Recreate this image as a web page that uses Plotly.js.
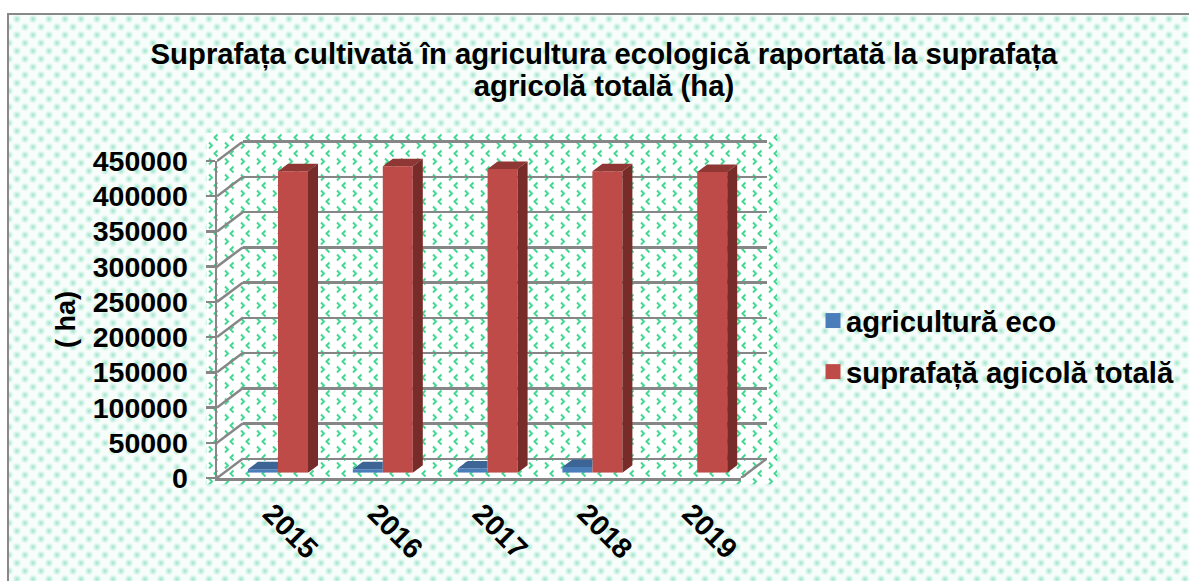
<!DOCTYPE html>
<html>
<head>
<meta charset="utf-8">
<script src="https://cdn.plot.ly/plotly-3.0.1.min.js"></script>
<style>
html,body{margin:0;padding:0;background:#fff;width:1189px;height:581px;overflow:hidden}
#outer,#wall,#chart{position:absolute}
#outer{left:7px;top:13px;width:1182px;height:568px;box-sizing:border-box;border-left:2.5px solid #888;border-top:2.5px solid #888;background-color:#f7fdfb;
background-image:radial-gradient(circle at 8px 4px,#9fe3ca 0,#c9f1e2 2px,rgba(255,255,255,0) 4.5px),radial-gradient(circle at 0 12px,#9fe3ca 0,#c9f1e2 2px,rgba(255,255,255,0) 4.5px),radial-gradient(circle at 16px 12px,#9fe3ca 0,#c9f1e2 2px,rgba(255,255,255,0) 4.5px);background-size:16px 16px}
#wall{left:207px;top:133px;width:570px;height:351px;background-color:#fff;background-size:16px 16px;
background-image:url("data:image/svg+xml,%3Csvg xmlns='http://www.w3.org/2000/svg' width='16' height='16'%3E%3Cpath d='M10.5 1.5L7.5 4.5L10.5 7.5M2 9.5L5 12.5L2 15.5' fill='none' stroke='%2344d893' stroke-width='2'/%3E%3C/svg%3E")}
</style>
</head>
<body>
<div id="outer"></div>
<div id="wall"></div>
<div id="chart"></div>
<script>
var W = 1189, H = 581;
var categories = ['2015', '2016', '2017', '2018', '2019'];
var ecoValues = [5000, 5000, 6000, 8000, null];
var totalValues = [428000, 435000, 431000, 428000, 427000];
var tickValues = [0, 50000, 100000, 150000, 200000, 250000, 300000, 350000, 400000, 450000];
var tickLabels = ['0', '50000', '100000', '150000', '200000', '250000', '300000', '350000', '400000', '450000'];
var ecoName = 'agricultură eco';
var totalName = 'suprafață agicolă totală';
var titleText = 'Suprafața cultivată în agricultura ecologică raportată la suprafața<br>agricolă totală (ha)';

function xd(a, b) { return [a / W, b / W]; }
function yd(bottom, top) { return [1 - bottom / H, 1 - top / H]; }

var catPx = 104.8, valPerPx = 450000 / 317;
var idx = categories.map(function (_, i) { return i + 1; });
var w = 30 / catPx, dx = 10 / catPx, dy = 7.5 * valPerPx;
var wallDx = 26 / catPx, wallDy = 19.5 * valPerPx;
var GRID = '#868686';
var font = 'Liberation Sans, Arial, sans-serif';

var diagX = [], diagY = [];
tickValues.forEach(function (v) {
  diagX.push(0.5, 0.5 + wallDx, null);
  diagY.push(v, v + wallDy, null);
});
diagX.push(5.5, 5.5 + wallDx);
diagY.push(0, wallDy);

function poly(list, color, name) {
  var xs = [], ys = [];
  list.forEach(function (p) {
    p.forEach(function (q) { xs.push(q[0]); ys.push(q[1]); });
    xs.push(null); ys.push(null);
  });
  return { type: 'scatter', mode: 'lines', x: xs, y: ys, fill: 'toself', fillcolor: color,
    line: { width: 0, color: color }, xaxis: 'x3', yaxis: 'y3', showlegend: false, hoverinfo: 'skip', cliponaxis: false, name: name };
}

var ecoTop = [], redSide = [], redTop = [];
idx.forEach(function (c, i) {
  var e = ecoValues[i], t = totalValues[i], x1 = c + w;
  if (e !== null) ecoTop.push([[c - w, e], [c, e], [c, e + dy], [c - w + dx, e + dy]]);
  redSide.push([[x1, 0], [x1 + dx, dy], [x1 + dx, t + dy], [x1, t]]);
  redTop.push([[c, t], [x1, t], [x1 + dx, t + dy], [c + dx, t + dy]]);
});

var traces = [
  { type: 'scatter', mode: 'lines', x: [1], y: [0], xaxis: 'x', yaxis: 'y', line: { width: 0 }, showlegend: false, hoverinfo: 'skip' },
  { type: 'scatter', mode: 'lines', x: [1], y: [0], xaxis: 'x2', yaxis: 'y2', line: { width: 0 }, showlegend: false, hoverinfo: 'skip' },
  { type: 'scatter', mode: 'lines', x: diagX, y: diagY, xaxis: 'x4', yaxis: 'y4', cliponaxis: false,
    line: { color: GRID, width: 2.5 }, showlegend: false, hoverinfo: 'skip' },
  { type: 'bar', x: idx, y: ecoValues, name: ecoName, marker: { color: '#4a7ebb' }, xaxis: 'x3', yaxis: 'y3', showlegend: false },
  { type: 'bar', x: idx, y: totalValues, name: totalName, marker: { color: '#be4b48' }, xaxis: 'x3', yaxis: 'y3', showlegend: false },
  poly(ecoTop, '#3c6595', 'eco top'),
  poly(redSide, '#772c2a', 'side'),
  poly(redTop, '#8e3735', 'top'),
  { type: 'scatter', mode: 'markers', x: [null], y: [null], name: ecoName, legendgroup: 'a', xaxis: 'x3', yaxis: 'y3',
    marker: { symbol: 'square', size: 15, color: '#4a7ebb' } },
  { type: 'scatter', mode: 'markers', x: [null], y: [null], name: totalName, legendgroup: 'b', xaxis: 'x3', yaxis: 'y3',
    marker: { symbol: 'square', size: 15, color: '#be4b48' } }
];

var pad = 2 * valPerPx;
var layout = {
  width: W, height: H, autosize: false,
  margin: { l: 0, r: 0, t: 0, b: 0 },
  paper_bgcolor: 'rgba(0,0,0,0)', plot_bgcolor: 'rgba(0,0,0,0)',
  font: { family: font, color: '#000' },
  barmode: 'group', bargap: 1 - 2 * w, bargroupgap: 0,
  title: { text: titleText, x: 604 / W, xanchor: 'center', y: 1 - 64 / H, yanchor: 'top', yref: 'container',
    font: { family: font, size: 29.3, color: '#000', weight: 'bold' } },
  // back wall (range padded so the first and last gridlines are kept)
  xaxis: { domain: xd(243, 767), range: [0.5, 5.5], anchor: 'y', showgrid: false, zeroline: false, showline: false, ticks: '', showticklabels: false, fixedrange: true },
  yaxis: { domain: yd(461, 139.5), range: [-pad, 450000 + pad], anchor: 'x', tickvals: tickValues, ticktext: tickLabels, showgrid: true, gridcolor: GRID, gridwidth: 2.5,
    zeroline: false, showline: false, ticks: '', showticklabels: false, fixedrange: true },
  // front plane with the axes
  xaxis2: { domain: xd(217, 741), range: [0.5, 5.5], anchor: 'y2', tickvals: idx, ticktext: categories, tickangle: 45, showgrid: false, zeroline: false,
    showline: true, linecolor: GRID, linewidth: 2.5, ticks: '', ticklabelstandoff: 5, ticklabelshift: 2,
    tickfont: { family: font, size: 28.5, color: '#000', weight: 'bold' }, fixedrange: true },
  yaxis2: { domain: yd(478, 161), range: [0, 450000], anchor: 'x2', tickvals: tickValues, ticktext: tickLabels, showgrid: false, zeroline: false,
    showline: true, linecolor: GRID, linewidth: 2.5, ticks: 'outside', ticklen: 9, tickcolor: GRID, tickwidth: 2.5, ticklabelstandoff: 12,
    tickfont: { family: font, size: 28.5, color: '#000', weight: 'bold' },
    title: { text: '( ha)', standoff: 9, font: { family: font, size: 27, color: '#000', weight: 'bold' } }, fixedrange: true },
  // bars, set a little into the depth of the floor
  xaxis3: { domain: xd(225.6, 749.6), range: [0.5, 5.5], anchor: 'y3', visible: false, fixedrange: true },
  yaxis3: { domain: yd(472.7, 155.7), range: [0, 450000], anchor: 'x3', visible: false, fixedrange: true },
  // the whole box, for the edges joining the front plane to the back wall
  xaxis4: { domain: xd(217, 767), range: [0.5, 5.5 + wallDx], anchor: 'y4', visible: false, fixedrange: true },
  yaxis4: { domain: yd(478, 141.5), range: [0, 450000 + wallDy], anchor: 'x4', visible: false, fixedrange: true },
  showlegend: true,
  legend: { x: 806 / W, xanchor: 'left', y: 1 - 295 / H, yanchor: 'top', bgcolor: 'rgba(0,0,0,0)', borderwidth: 0, tracegroupgap: 10,
    font: { family: font, size: 29.3, color: '#000', weight: 'bold' } }
};

Plotly.newPlot('chart', traces, layout, { displayModeBar: false, staticPlot: true }).then(function (gd) {
  var lines = gd.querySelectorAll('.gtitle tspan.line');
  if (lines.length > 1) lines[1].setAttribute('dy', '1.09em');
  gd.querySelectorAll('.legend .legendsymbols').forEach(function (g) {
    g.setAttribute('transform', 'translate(7,0)');
  });
});
</script>
</body>
</html>
